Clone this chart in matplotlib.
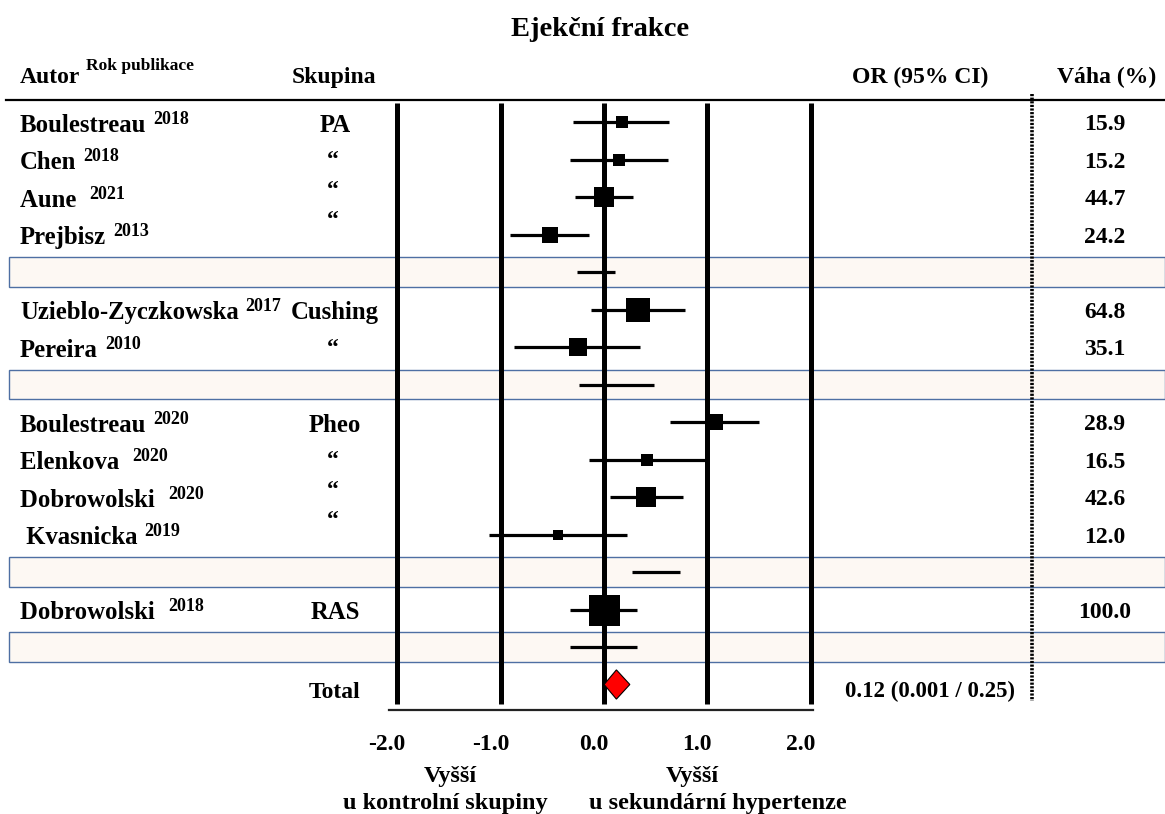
import numpy as np
import matplotlib
matplotlib.use('Agg')
import matplotlib.pyplot as plt
from matplotlib.patches import Rectangle, Polygon
from matplotlib.transforms import blended_transform_factory

# forest plot - ejection fraction, secondary hypertension vs controls

W, H = 1165, 814
plt.rcParams['font.family'] = ['Liberation Serif', 'DejaVu Serif']
plt.rcParams['font.weight'] = 'bold'

authors = ['Boulestreau', 'Chen', 'Aune ', 'Prejbisz', 'Uzieblo-Zyczkowska', 'Pereira',
           'Boulestreau', 'Elenkova ', 'Dobrowolski ', ' Kvasnicka', 'Dobrowolski ']
years = ['2018', '2018', '2021', '2013', '2017', '2010', '2020', '2020', '2020', '2019', '2018']
est = [0.17, 0.145, 0.0, -0.52, 0.33, -0.255, 1.075, 0.42, 0.41, -0.445, 0.0]
lo = [-0.30, -0.33, -0.28, -0.91, -0.13, -0.87, 0.64, -0.145, 0.06, -1.11, -0.33]
hi = [0.63, 0.62, 0.28, -0.145, 0.78, 0.35, 1.50, 1.00, 0.765, 0.22, 0.32]
weights = [15.9, 15.2, 44.7, 24.2, 64.8, 35.1, 28.9, 16.5, 42.6, 12.0, 100.0]
study_rows = [0, 1, 2, 3, 5, 6, 8, 9, 10, 11, 13]

groups = ['PA', 'Cushing', 'Pheo', 'RAS']
group_rows = [0, 5, 8, 13]
group_n = [4, 2, 4, 1]
sub_rows = [4, 7, 12, 14]
sub_lo = [-0.26, -0.24, 0.27, -0.33]
sub_hi = [0.105, 0.48, 0.74, 0.32]

total_row = 15
total_est, total_lo, total_hi = 0.12, 0.001, 0.25
total_text = '0.12 (0.001 / 0.25)'

ticks = [-2.0, -1.0, 0.0, 1.0, 2.0]

# pixel layout helpers
x0_px, unit_px = 604, 103.35
row0_px, row_px = 122, 37.5

fig = plt.figure(figsize=(W / 100, H / 100), dpi=100)
ax = fig.add_axes([0, 0, 1, 1])
ax.set_xlim(-x0_px / unit_px, (W - x0_px) / unit_px)
ax.set_ylim((H - row0_px) / row_px, -row0_px / row_px)
ax.axis('off')
tr = blended_transform_factory(fig.transFigure, ax.transData)
fx = lambda p: p / W

fs = 17
fs_name = 17.8
sup = 13

# shaded subgroup rows
for r in sub_rows:
    ax.add_patch(Rectangle((fx(9), r - 0.39), 1 - fx(9), 0.78, transform=tr,
                           facecolor='#fdf8f3', edgecolor='#4e6fa3', lw=1.0, zorder=1))

# vertical reference lines
ax.vlines(ticks, -0.51, 15.52, color='black', lw=3.6, zorder=2)
ax.plot([-2.08, 2.02], [15.68, 15.68], color='#222222', lw=1.6, zorder=2)

# header line + dotted separator
ax.plot([fx(6), 1.0], [-0.59, -0.59], transform=tr, color='black', lw=1.6)
ax.plot([fx(1032), fx(1032)], [-0.75, 15.45], transform=tr, color='black', lw=2.6,
        ls=(0, (0.6, 0.4)))

# studies
for i, r in enumerate(study_rows):
    ax.plot([lo[i], hi[i]], [r, r], color='black', lw=2.3, solid_capstyle='butt', zorder=3)
    ax.plot(est[i], r, marker='s', ms=3.1 * np.sqrt(weights[i]) * 0.72, color='black',
            mew=0, zorder=4)
    t = ax.text(fx(20), r + 0.26, authors[i], transform=tr, fontsize=fs_name, va='baseline')
    ax.annotate(years[i], xy=(1, 0), xycoords=t, xytext=(5, 9.5), textcoords='offset points',
                fontsize=sup, va='baseline')
    ax.text(fx(1105), r + 0.22, f'{weights[i]:.1f}', transform=tr, fontsize=fs,
            ha='center', va='baseline')

# subgroup pooled lines
for r, a, b in zip(sub_rows, sub_lo, sub_hi):
    ax.plot([a, b], [r, r], color='black', lw=2.3, solid_capstyle='butt', zorder=3)

# group labels
for g, r, n in zip(groups, group_rows, group_n):
    ax.text(fx(335), r + 0.26, g, transform=tr, fontsize=fs_name, ha='center', va='baseline')
    for k in range(1, n):
        ax.text(fx(333), r + 0.8 * k + 0.38, '\u201c', transform=tr, fontsize=fs,
                ha='center', va='baseline')

# total
ax.add_patch(Polygon([(total_lo, total_row), (total_est, total_row - 0.39),
                      (total_hi, total_row), (total_est, total_row + 0.39)],
                     closed=True, facecolor='#ff0000', edgecolor='black', lw=0.8, zorder=5))
ax.text(fx(335), total_row + 0.35, 'Total', transform=tr, fontsize=fs, ha='center', va='baseline')
ax.text(fx(930), total_row + 0.33, total_text, transform=tr, fontsize=fs - 0.5, ha='center',
        va='baseline')

# headers
ax.text(fx(600), -2.29, 'Ejekční frakce', transform=tr, fontsize=20.5, ha='center', va='baseline')
t = ax.text(fx(20), -1.03, 'Autor', transform=tr, fontsize=fs, va='baseline')
ax.annotate('Rok publikace', xy=(1, 0), xycoords=t, xytext=(4, 13), textcoords='offset points',
            fontsize=sup - 0.5, va='baseline')
ax.text(fx(334), -1.03, 'Skupina', transform=tr, fontsize=fs, ha='center', va='baseline')
ax.text(fx(920), -1.03, 'OR (95% CI)', transform=tr, fontsize=fs, ha='center', va='baseline')
ax.text(fx(1107), -1.03, 'Váha (%)', transform=tr, fontsize=fs, ha='center', va='baseline')

# x tick labels
for v in ticks:
    ax.text(v - 0.1, 16.75, f'{v:.1f}', fontsize=fs, ha='center', va='baseline')

ax.text(fx(450), 17.6, 'Vyšší', transform=tr, fontsize=17.5, ha='center', va='baseline')
ax.text(fx(445), 18.32, 'u kontrolní skupiny', transform=tr, fontsize=17.5, ha='center',
        va='baseline')
ax.text(fx(692), 17.6, 'Vyšší', transform=tr, fontsize=17.5, ha='center', va='baseline')
ax.text(fx(718), 18.32, 'u sekundární hypertenze', transform=tr, fontsize=17.5,
        ha='center', va='baseline')

fig.savefig('out.png', dpi=100)
